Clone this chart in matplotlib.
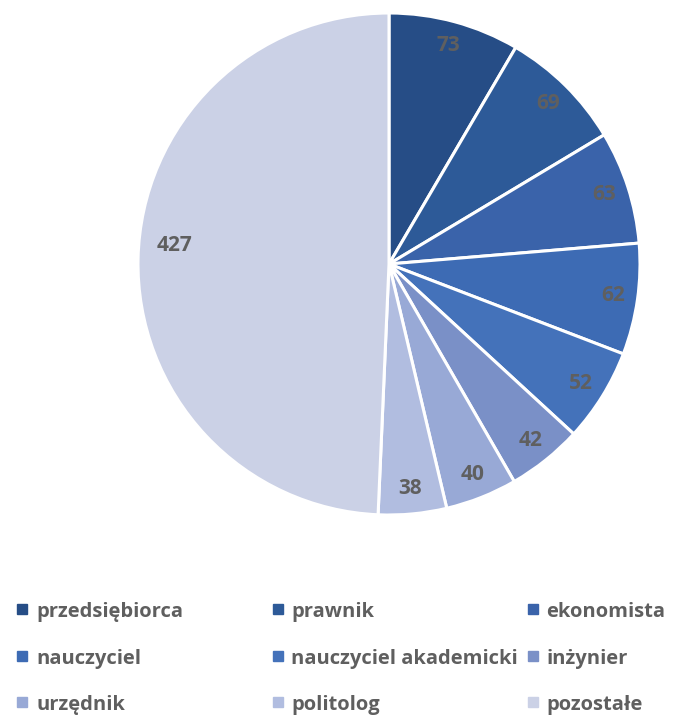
import matplotlib
matplotlib.use("Agg")
import matplotlib.pyplot as plt
from matplotlib.lines import Line2D

categories = ["przedsiębiorca", "prawnik", "ekonomista", "nauczyciel",
              "nauczyciel akademicki", "inżynier", "urzędnik", "politolog", "pozostałe"]
values = [73, 69, 63, 62, 52, 42, 40, 38, 427]
colors = ["#264D86", "#2D5A98", "#3A63AA", "#3D6BB4", "#4472BA",
          "#7A90C7", "#98A9D6", "#B1BDE0", "#CBD1E6"]

plt.rcParams['font.family'] = ['Open Sans', 'DejaVu Sans']
W, H = 683, 716
fig = plt.figure(figsize=(W/100, H/100), dpi=100)

cx, cy, r = 389, 264, 251
ax = fig.add_axes([(cx - r)/W, 1 - (cy + r)/H, 2*r/W, 2*r/H])
wedges, texts = ax.pie(values, colors=colors, startangle=90, counterclock=False,
                       labels=[str(v) for v in values], labeldistance=0.9,
                       wedgeprops=dict(edgecolor="white", linewidth=2.2))
for t in texts:
    t.set_ha("center"); t.set_va("center")
    t.set_fontsize(15); t.set_fontweight("bold"); t.set_color("#5F5F5F")
# the large slice label sits slightly above the horizontal axis
texts[-1].set_position((-0.853, 0.072))
ax.set_xlim(-1, 1); ax.set_ylim(-1, 1)
ax.set_aspect("equal")
ax.axis("off")

marker_x = [21.5, 277.5, 532.5]
text_x = [36, 291, 546]
baseline_y = [617, 664, 710]
for col in range(3):
    for row in range(3):
        i = row*3 + col
        yb = baseline_y[row]
        fig.add_artist(Line2D([marker_x[col]/W], [1 - (yb - 8)/H], marker="s",
                              markersize=6.5, color=colors[i], linestyle="none",
                              transform=fig.transFigure))
        fig.text(text_x[col]/W, 1 - yb/H, categories[i], fontsize=14.5,
                 fontweight="bold", color="#5F5F5F", ha="left", va="baseline")

fig.savefig("out.png", dpi=100)
